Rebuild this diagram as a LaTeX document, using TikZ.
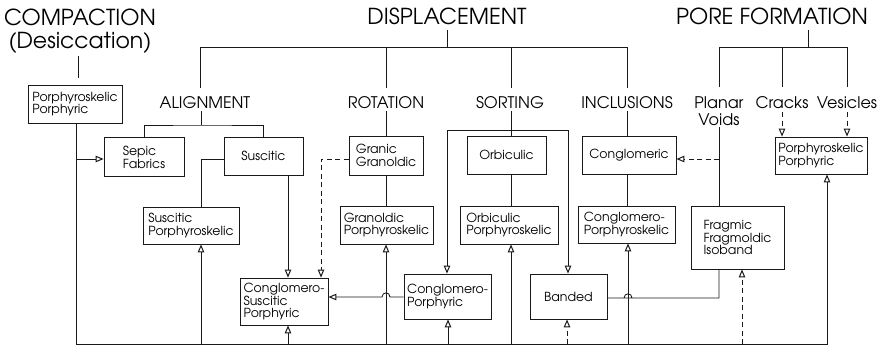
\documentclass[tikz,border=0pt]{standalone}
\usepackage{fontspec}
\setmainfont{TeX Gyre Adventor}
\usetikzlibrary{arrows.meta,calc}
\begin{document}
\begin{tikzpicture}[x=1pt,y=-1pt,
  ln/.style={draw=black!90,line width=0.85pt},
  tip/.tip={Triangle[open,length=8pt,width=6.5pt,line width=1pt]},
  ar/.style={ln,-tip},
  dsh/.style={dash pattern=on 5pt off 3.5pt},
  box/.style={draw=black!90,line width=0.85pt,align=left,inner sep=1pt,font=\fontsize{12.5}{12.8}\selectfont},
  ttl/.style={align=center,font=\fontsize{22}{23}\selectfont,inner sep=0pt},
  sub/.style={align=center,font=\fontsize{16}{16.5}\selectfont,inner sep=0pt}]
\useasboundingbox (0,0) rectangle (890,346);

\newcommand\mybox[5]{\node[box,minimum width=#3pt,minimum height=#4pt] (#1) at (#2) {#5};}

% headings
\node[ttl] (comp) at (80,31) {COMPACTION\\(Desiccation)};
\node[ttl] (disp) at (447,16) {DISPLACEMENT};
\node[ttl] (pore) at (772,16) {PORE FORMATION};
\node[sub] (align) at (205,103) {ALIGNMENT};
\node[sub] (rot) at (386,103) {ROTATION};
\node[sub] (sort) at (510,103) {SORTING};
\node[sub] (incl) at (627,103) {INCLUSIONS};
\node[sub] (planar) at (719,111) {Planar\\Voids};
\node[sub] (cracks) at (782,103) {Cracks};
\node[sub] (ves) at (847,103) {Vesicles};

% boxes
\mybox{lpp}{75,104}{94}{38}{Porphyroskelic\\Porphyric}
\mybox{sepic}{144,157}{80}{39}{Sepic\\Fabrics}
\mybox{susc}{263.5,156}{79}{38}{Suscitic}
\mybox{suscP}{191,225.5}{96}{37}{Suscitic\\Porphyroskelic}
\mybox{cs}{284,301.5}{88}{47}{Conglomero-\\Suscitic\\Porphyric}
\mybox{gran}{386,155.5}{74}{39}{Granic\\Granoldic}
\mybox{granP}{386.5,225}{93}{38}{Granoldic\\Porphyroskelic}
\mybox{orb}{506.5,155}{79}{38}{Orbiculic}
\mybox{orbP}{509,225}{98}{38}{Orbiculic\\Porphyroskelic}
\mybox{cp}{447.5,296.5}{87}{45}{Conglomero-\\Porphyric}
\mybox{banded}{568.5,296.5}{77}{45}{Banded}
\mybox{cong}{629,155}{94}{38}{Conglomeric}
\mybox{congP}{626.5,224.5}{97}{37}{Conglomero-\\Porphyroskelic}
\mybox{frag}{737.5,237.5}{93}{63}{Fragmic\\Fragmoldic\\Isoband}
\mybox{rpp}{821,155.5}{92}{37}{Porphyroskelic\\Porphyric}

% helper coordinates
\coordinate (compA) at (78,56);
\coordinate (compB) at (78,78);
\coordinate (dispS) at (447,30);
\coordinate (dispJ) at (447,47);
\coordinate (dL) at (200,47);
\coordinate (dR) at (627,47);
\coordinate (dRot) at (386,47);
\coordinate (dSort) at (511,47);
\coordinate (poreS) at (808,30);
\coordinate (poreJ) at (808,47);
\coordinate (pL) at (719,47);
\coordinate (pR) at (847,47);
\coordinate (pC) at (782,47);
\coordinate (alJ) at (201,125);
\coordinate (srtL) at (447,130);
\coordinate (srtR) at (568,130);
\coordinate (sj) at (201,159);
\coordinate (gj) at (321,159);
\coordinate (vj) at (719,159);
\coordinate (bl) at (76,344);
\coordinate (br) at (827,344);
\coordinate (b201) at (201,344);
\coordinate (b288) at (288,344);
\coordinate (b386) at (386,344);
\coordinate (b448) at (448,344);
\coordinate (b511) at (511,344);
\coordinate (b567) at (567,344);
\coordinate (b628) at (628,344);
\coordinate (b742) at (742,344);
\coordinate (fj) at (719,298);

% heading trees
\draw[ln] (compA) -- (compB);
\draw[ln] (dispS) -- (dispJ);
\draw[ln] (dL |- 0,88) -- (dL) -- (dR) -- (dR |- 0,88);
\draw[ln] (dRot) -- (dRot |- 0,88);
\draw[ln] (dSort) -- (dSort |- 0,88);
\draw[ln] (poreS) -- (poreJ);
\draw[ln] (pL |- 0,87) -- (pL) -- (pR) -- (pR |- 0,87);
\draw[ln] (pC) -- (pC |- 0,87);

% alignment
\draw[ln] (alJ |- 0,111) -- (alJ);
\draw[ln] (sepic.north) |- (alJ) -| (susc.north);
\draw[ln] (susc.west |- sj) -- (sj) -- (sj |- suscP.north);
\draw[ar] (b288 |- susc.south) -- (b288 |- cs.north);

% rotation
\draw[ln] (rot.south |- 0,111) -- (gran.north);
\draw[ln] (gran.south) -- (gran.south |- granP.north);
\draw[ar,dsh] (gran.west |- gj) -- (gj) -- (gj |- cs.north);

% sorting
\draw[ln] (dSort |- 0,111) -- (dSort |- orb.north);
\draw[ln] (dSort |- orb.south) -- (dSort |- orbP.north);
\draw[ln,tip-tip] (srtL |- cp.north) -- (srtL) -- (srtR) -- (srtR |- banded.north);

% inclusions
\draw[ln] (dR |- 0,111) -- (dR |- cong.north);
\draw[ln] (dR |- cong.south) -- (dR |- congP.north);

% pore formation
\draw[ln] (pL |- 0,127) -- (pL |- frag.north);
\draw[ar,dsh] (vj) -- (vj -| cong.east);
\draw[ar,dsh] (pC |- 0,112) -- (pC |- rpp.north);
\draw[ar,dsh] (pR |- 0,112) -- (pR |- rpp.north);

% cross links with hops
\draw[ar] (cp.west |- 0,297) -- (390,297) .. controls (390,291.5) and (382,291.5) .. (382,297) -- (cs.east |- 0,297);
\draw[ln] (banded.east |- fj) -- (632,298) .. controls (632,292.5) and (624,292.5) .. (624,298) -- (fj) -- (fj |- frag.south);

% compaction bus
\draw[ar] (lpp.south -| bl) -- (bl) -- (br) -- (br |- rpp.south);
\draw[ar] (bl |- 0,159) -- (sepic.west |- 0,159);
\draw[ar] (b201) -- (b201 |- suscP.south);
\draw[ar] (b288) -- (b288 |- cs.south);
\draw[ar] (b386) -- (b386 |- granP.south);
\draw[ar] (b448) -- (b448 |- cp.south);
\draw[ar] (b511) -- (b511 |- orbP.south);
\draw[ar,dsh] (b567) -- (b567 |- banded.south);
\draw[ar] (b628) -- (b628 |- congP.south);
\draw[ar,dsh] (b742) -- (b742 |- frag.south);
\end{tikzpicture}
\end{document}
